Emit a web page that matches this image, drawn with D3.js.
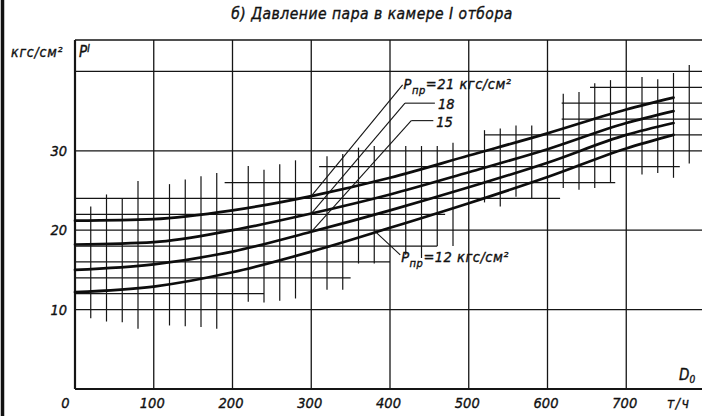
<!DOCTYPE html>
<html><head><meta charset="utf-8">
<script src="https://cdn.jsdelivr.net/npm/d3@7"></script>
<style>
body{margin:0;background:#fff;}
svg{display:block;}
text{font-family:"DejaVu Sans Condensed","Liberation Sans Narrow","DejaVu Sans",sans-serif;font-style:italic;fill:#111;stroke:#111;stroke-width:0.35px;}
</style></head><body>
<svg id="c" width="702" height="416"></svg>
<script>
// ---- data ----
const flowTicks = [0, 100, 200, 300, 400, 500, 600, 700];
const pressureTicks = [10, 20, 30];
const majorRows = [10, 20, 30, 40];
const majorCols = [0, 100, 200, 300, 400, 500, 600, 700, 800];
const flowPoints = [0, 100, 200, 300, 400, 500, 600, 700, 760];
const p21 = [21.2, 21.4, 22.5, 24.3, 26.6, 29.4, 32.2, 35.2, 36.7];
const p18 = [18.2, 18.5, 20.0, 22.1, 24.5, 27.3, 30.2, 33.5, 35.0];
const p15 = [15.0, 15.7, 17.3, 19.8, 22.5, 25.4, 28.5, 32.0, 33.5];
const p12 = [12.2, 12.9, 14.7, 17.3, 20.3, 23.4, 26.7, 30.3, 32.0];
const seriesLabels = ["21", "18", "15", "12"];
// fine (secondary) grid, partially erased
const fineColsD  = [20, 40, 60, 80, 120, 140, 160, 180, 220, 240, 260, 280, 320, 340, 360, 380, 420, 440, 460, 480, 520, 540, 560, 580, 620, 640, 660, 680, 720, 740, 760, 780];
const fineColsLo = [8.9, 8.5, 8.4, 7.6, 8.0, 7.9, 7.8, 7.6, 11.0, 10.9, 11.1, 11.4, 12.5, 12.5, 15.8, 15.8, 16.9, 16.5, 18.0, 18.0, 23.5, 23.0, 24.2, 24.0, 25.3, 25.1, 25.3, 26.0, 27.0, 27.2, 26.6, 28.4];
const fineColsHi = [23.0, 24.5, 24.0, 26.2, 25.8, 26.4, 26.8, 27.2, 28.1, 27.6, 28.3, 28.8, 29.3, 29.6, 30.4, 30.6, 30.6, 30.6, 30.6, 31.0, 32.6, 32.8, 33.2, 33.2, 37.2, 37.4, 38.5, 38.9, 39.3, 39.0, 39.8, 40.8];
const fineRowsP    = [12, 14, 16, 18, 22, 24, 26, 28, 32, 34, 36, 38];
const fineRowsFrom = [0, 0, 0, 0, 0, 0, 190, 310, 520, 618, 618, 654];
const fineRowsTo   = [240, 350, 400, 460, 470, 616, 686, 768, 800, 800, 800, 800];
// label annotation anchors (data units)
const leaderFromD = [300, 300, 300, 382];
const leaderToD   = [416, 419, 427, 413];
const leaderToP   = [38.3, 36.0, 33.8, 16.9];
const shelfToD    = [null, 457, 455, null];

// ---- layout ----
const svg = d3.select("#c");
const plotTop = 40, plotBottom = 389, plotLeft = 75;
const x = d3.scaleLinear().domain([0, 800]).range([plotLeft, 705]);
const y = d3.scaleLinear().domain([0, 40]).range([plotBottom, 71.4]);

// page edge
svg.append("line").attr("x1", 2.5).attr("x2", 2.5).attr("y1", 0).attr("y2", 416)
  .attr("stroke", "#111").attr("stroke-width", 3.5);

// title
svg.append("text").attr("x", 372).attr("y", 19).attr("text-anchor", "middle")
  .style("font-size", "15.5px").style("letter-spacing", "0.5px").text("б) Давление пара в камере I отбора");

const ink = "#151515";
// fine grid
const fg = svg.append("g").attr("stroke", ink).attr("stroke-width", 1.2);
fineColsD.forEach((d, i) => {
  fg.append("line").attr("x1", x(d)).attr("x2", x(d))
    .attr("y1", y(fineColsLo[i])).attr("y2", y(fineColsHi[i]));
});
fineRowsP.forEach((p, i) => {
  fg.append("line").attr("y1", y(p)).attr("y2", y(p))
    .attr("x1", x(fineRowsFrom[i])).attr("x2", x(fineRowsTo[i]));
});

// major grid
const mg = svg.append("g").attr("stroke", ink).attr("stroke-width", 1.3);
majorCols.forEach(d => mg.append("line").attr("x1", x(d)).attr("x2", x(d)).attr("y1", plotTop).attr("y2", plotBottom));
majorRows.forEach(p => mg.append("line").attr("y1", y(p)).attr("y2", y(p)).attr("x1", plotLeft).attr("x2", 705));
mg.append("line").attr("x1", plotLeft).attr("x2", 705).attr("y1", plotTop).attr("y2", plotTop);
// axes frame
svg.append("line").attr("x1", plotLeft).attr("x2", plotLeft).attr("y1", plotTop).attr("y2", plotBottom)
  .attr("stroke", ink).attr("stroke-width", 2.2);
svg.append("line").attr("x1", plotLeft).attr("x2", 705).attr("y1", plotBottom).attr("y2", plotBottom)
  .attr("stroke", ink).attr("stroke-width", 2.2);

// axes labels
const xa = svg.append("g").attr("transform", `translate(0,${plotBottom})`)
  .call(d3.axisBottom(x).tickValues(flowTicks).tickSize(0).tickPadding(9).tickFormat(d3.format("d")));
xa.select(".domain").remove();
xa.selectAll("text").style("font-size", "14.5px").attr("fill", "#111")
  .attr("dx", d => d === 0 ? -10 : -2);
const ya = svg.append("g").attr("transform", `translate(${plotLeft},0)`)
  .call(d3.axisLeft(y).tickValues(pressureTicks).tickSize(0).tickPadding(8));
ya.select(".domain").remove();
ya.selectAll("text").style("font-size", "14.5px").attr("fill", "#111");

svg.append("text").attr("x", 11).attr("y", 57).style("font-size", "14px").style("letter-spacing", "0.8px").text("кгс/см²");
const pl = svg.append("text").attr("x", 79).attr("y", 57).style("font-size", "15px");
pl.append("tspan").text("P");
pl.append("tspan").attr("dy", -5).style("font-size", "10px").text("I");
svg.append("text").attr("x", 667).attr("y", 408).style("font-size", "14px").style("letter-spacing", "1.5px").text("т/ч");
const dl = svg.append("text").attr("x", 679).attr("y", 380).style("font-size", "15px");
dl.append("tspan").text("D");
dl.append("tspan").attr("dy", 3).style("font-size", "10px").text("0");

// curves
const series = [p21, p18, p15, p12];
const line = d3.line().x((d, i) => x(flowPoints[i])).y(d => y(d)).curve(d3.curveMonotoneX);
svg.append("g").selectAll("path").data(series).join("path")
  .attr("d", d => line(d)).attr("fill", "none").attr("stroke", "#0d0d0d")
  .attr("stroke-width", 2.7).attr("stroke-linecap", "round");

// leaders and labels
const lg = svg.append("g").attr("stroke", ink).attr("stroke-width", 1.1).attr("fill", "none");
series.forEach((s, i) => {
  const interp = d3.scaleLinear().domain(flowPoints).range(s);
  const x0 = x(leaderFromD[i]), y0 = y(interp(leaderFromD[i]));
  const x1 = x(leaderToD[i]), y1 = y(leaderToP[i]);
  lg.append("line").attr("x1", x0).attr("y1", y0).attr("x2", x1).attr("y2", y1);
  if (shelfToD[i] !== null) {
    lg.append("line").attr("x1", x1).attr("y1", y1).attr("x2", x(shelfToD[i])).attr("y2", y1);
    svg.append("text").attr("x", x(shelfToD[i]) + 3).attr("y", y1 + 6)
      .style("font-size", "14.5px").text(seriesLabels[i]);
  } else {
    const t = svg.append("text").attr("x", x1 + 1).attr("y", y1 + (i === 0 ? 4 : 7))
      .style("font-size", "14.5px").style("letter-spacing", "0.5px");
    t.append("tspan").text("P");
    t.append("tspan").attr("dy", 5).style("font-size", "11px").text("пр");
    t.append("tspan").attr("dy", -5).text("=" + seriesLabels[i] + " кгс/см²");
  }
});
</script>
</body></html>
